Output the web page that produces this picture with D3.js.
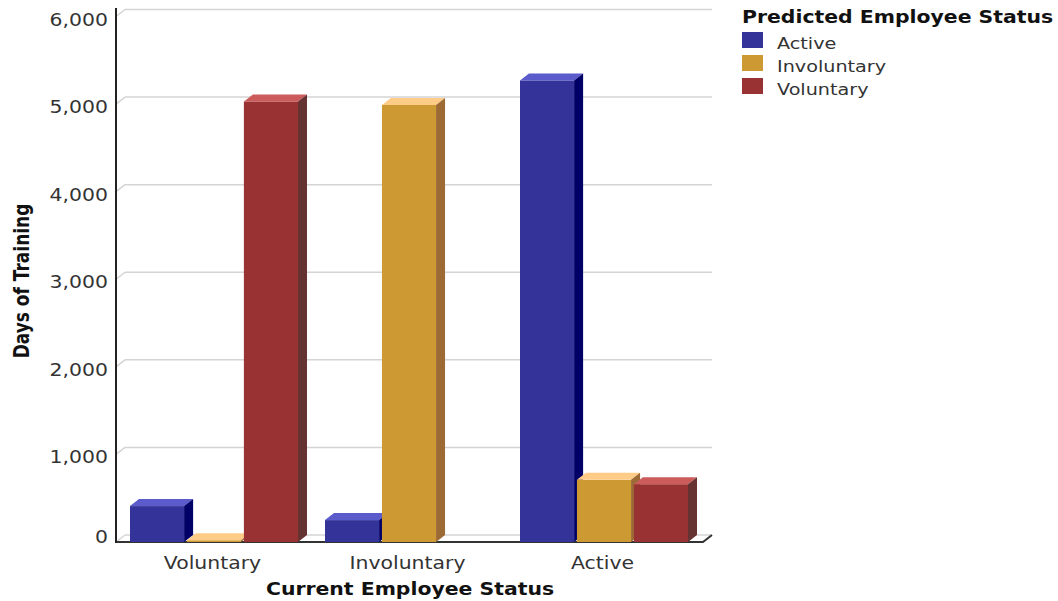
<!DOCTYPE html>
<html>
<head>
<meta charset="utf-8">
<script src="https://cdn.jsdelivr.net/npm/d3@7"></script>
<style>
  html, body { margin: 0; padding: 0; background: #fff; }
  svg { display: block; }
  text { font-family: "DejaVu Sans", Verdana, sans-serif; }
</style>
</head>
<body>
<svg id="chart" width="1058" height="601"></svg>
<script>
// Days of training by current status, split by predicted status
const categories = ["Voluntary", "Involuntary", "Active"];
const seriesNames = ["Active", "Involuntary", "Voluntary"];
const activeValues = [410, 250, 5270];
const involuntaryValues = [20, 4990, 710];
const voluntaryValues = [5030, 0, 660];
const yTicks = [0, 1000, 2000, 3000, 4000, 5000, 6000];

const seriesValues = [activeValues, involuntaryValues, voluntaryValues];

// face shades per series: front, top, side
const palette = {
  "Active":      { front: "#333399", top: "#5b5bcc", side: "#000066" },
  "Involuntary": { front: "#cc9933", top: "#ffcc88", side: "#9c6a34" },
  "Voluntary":   { front: "#993333", top: "#cc5c5c", side: "#663333" }
};

const svg = d3.select("#chart");
const SX = 1.2;           // horizontal stretch of the lettering
const DX = 9, DY = 7;     // 3D depth offset
const plotLeft = 116, plotRight = 703, plotBottom = 542, plotTop = 16.5;

const x0 = d3.scaleBand().domain(categories).range([plotLeft, plotLeft + 585]).padding(0);
const x1 = d3.scaleBand().domain(seriesNames).range([14, 182]).paddingInner(0.05);
const y = d3.scaleLinear().domain([0, 6000]).range([plotBottom, plotTop]);

// back-wall gridlines with short diagonal ticks from the axis
const grid = svg.append("g");
yTicks.forEach(t => {
  const yy = y(t);
  grid.append("line")
    .attr("x1", plotLeft + DX).attr("x2", plotRight + DX)
    .attr("y1", yy - DY).attr("y2", yy - DY)
    .attr("stroke", "#d4d4d4").attr("stroke-width", 1.5);
  grid.append("line")
    .attr("x1", plotLeft).attr("x2", plotLeft + DX)
    .attr("y1", yy).attr("y2", yy - DY)
    .attr("stroke", "#d4d4d4").attr("stroke-width", 1.5);
});

// floor outline
svg.append("path")
  .attr("d", `M${plotLeft},${plotBottom}L${plotRight},${plotBottom}L${plotRight + DX},${plotBottom - DY}`)
  .attr("fill", "none").attr("stroke", "#333").attr("stroke-width", 2);

// bars
const rows = [];
categories.forEach((c, ci) => {
  seriesNames.forEach((s, si) => {
    rows.push({ cat: c, series: s, value: seriesValues[si][ci] });
  });
});

const bars = svg.append("g");
rows.filter(d => d.value > 0).forEach(d => {
  const bx = x0(d.cat) + x1(d.series);
  const bw = x1.bandwidth();
  const yt = y(d.value), yb = y(0);
  const col = palette[d.series];
  const g = bars.append("g");
  g.append("rect")
    .attr("x", bx).attr("y", yt).attr("width", bw).attr("height", yb - yt)
    .attr("fill", col.front);
  g.append("path")
    .attr("d", `M${bx},${yt}L${bx + DX},${yt - DY}L${bx + bw + DX},${yt - DY}L${bx + bw},${yt}Z`)
    .attr("fill", col.top);
  g.append("path")
    .attr("d", `M${bx + bw},${yt}L${bx + bw + DX},${yt - DY}L${bx + bw + DX},${yb - DY}L${bx + bw},${yb}Z`)
    .attr("fill", col.side);
});

// vertical axis line
svg.append("line")
  .attr("x1", plotLeft).attr("x2", plotLeft)
  .attr("y1", 8).attr("y2", plotBottom + 1)
  .attr("stroke", "#222").attr("stroke-width", 2);

// stretched text helper
function label(x, yy, str, opts = {}) {
  const g = svg.append("g")
    .attr("transform", `translate(${x},${yy}) scale(${SX},1)${opts.rotate ? ` rotate(${opts.rotate})` : ""}`);
  return g.append("text")
    .attr("text-anchor", opts.anchor || "start")
    .attr("font-size", opts.size || 17)
    .attr("font-weight", opts.bold ? "bold" : "normal")
    .attr("fill", opts.fill || "#333")
    .text(str);
}

// y tick labels
const fmt = d3.format(",");
yTicks.forEach(t => {
  const yy = Math.min(y(t) - DY + 10, 537);
  label(108, yy + 6, fmt(t), { anchor: "end" });
});

// category labels
categories.forEach(c => {
  label(x0(c) + x0.bandwidth() / 2 - 1, 569, c, { anchor: "middle" });
});

// axis titles
label(410, 595, "Current Employee Status", { anchor: "middle", bold: true, fill: "#111" });
label(29, 281, "Days of Training", { anchor: "middle", bold: true, fill: "#111", rotate: -90 });

// legend
label(742, 23, "Predicted Employee Status", { bold: true, fill: "#111" });
seriesNames.forEach((s, i) => {
  svg.append("rect")
    .attr("x", 742).attr("y", 32 + i * 23).attr("width", 21).attr("height", 16)
    .attr("fill", palette[s].front);
  label(777, 49 + i * 23, s, { size: 16 });
});
</script>
</body>
</html>
